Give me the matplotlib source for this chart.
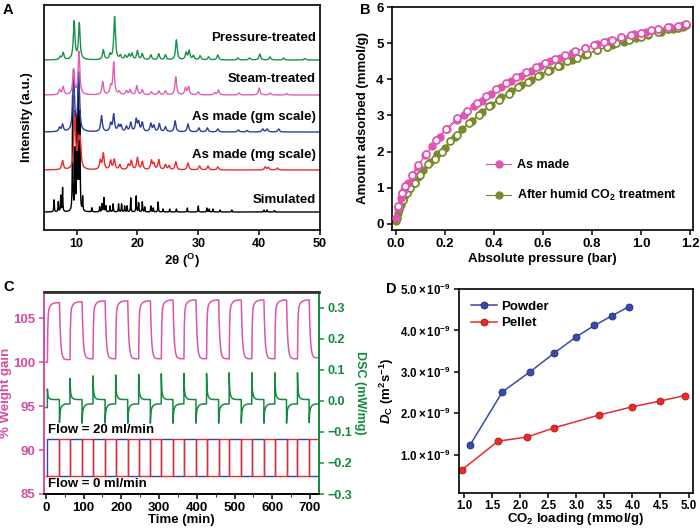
import numpy as np
import matplotlib
matplotlib.use("Agg")
import matplotlib.pyplot as plt
from matplotlib.ticker import MultipleLocator, FixedLocator, FuncFormatter

plt.rcParams.update({
    "font.family": ["Liberation Sans", "DejaVu Sans"],
    "font.weight": "bold",
    "axes.labelweight": "bold",
    "font.size": 9,
    "mathtext.fontset": "custom",
    "mathtext.rm": "Liberation Sans:bold",
    "mathtext.it": "Liberation Sans:italic:bold",
    "mathtext.bf": "Liberation Sans:bold",
    "axes.linewidth": 1.2,
    "xtick.direction": "out",
    "ytick.direction": "out",
    "xtick.major.width": 1.1,
    "ytick.major.width": 1.1,
    "xtick.major.size": 3.5,
    "ytick.major.size": 3.5,
    "xtick.major.pad": 2.5,
    "ytick.major.pad": 2.5,
})

# ---------------- Panel A data: PXRD peak lists (2theta, height) ----------------
xrd_labels = ["Simulated", "As made (mg scale)", "As made (gm scale)", "Steam-treated", "Pressure-treated"]
xrd_colors = ["#000000", "#ee2b2b", "#2c3e9e", "#e060b4", "#17924a"]
xrd_offsets = [18, 60, 98, 135, 170]
sim_pos = [6.3, 7.0, 7.4, 7.7, 9.35, 9.75, 10.05, 10.3, 10.55, 11.0, 12.5, 13.8, 14.2, 14.5, 14.8, 15.5, 16.0,
           16.9, 17.4, 17.9, 18.3, 18.9, 19.8, 20.2, 20.8, 21.2, 22.2, 22.6, 23.4, 24.2, 25.3, 26.4, 28.2,
           30.0, 31.4, 31.8, 32.4, 33.6, 35.5, 40.8, 41.3, 42.5]
sim_h = [12, 10, 16, 24, 115, 60, 90, 127, 95, 14, 4, 5, 8, 14, 6, 6, 8,
         8, 8, 6, 6, 14, 16, 9, 10, 5, 6, 4, 10, 3, 3, 3, 4,
         6, 4, 3, 3, 2, 2, 2, 2, 1.5]
mg_pos = [7.7, 9.7, 10.3, 10.6, 13.9, 14.4, 15.6, 16.2, 17.1, 18.5, 19.0, 20.0, 20.8, 22.3, 22.7, 23.5,
          24.6, 25.2, 26.3, 28.3, 30.2, 31.6, 33.2, 41.0, 41.5, 43.0]
mg_h = [9, 57, 25, 27, 9, 16, 9, 10, 5, 5, 9, 12, 8, 9, 6, 10,
        5, 4, 8, 7, 4, 4, 3, 3, 2.5, 2]
gm_pos = [7.2, 7.7, 9.5, 10.35, 14.1, 15.6, 16.1, 16.9, 17.3, 18.2, 18.9, 19.8, 20.2, 20.8, 22.2, 22.7,
          23.6, 24.6, 26.2, 28.3, 30.1, 31.5, 33.2, 36.6, 38.0, 40.6, 41.3, 43.2]
gm_h = [4, 7, 60, 58, 16, 8, 17, 6, 6, 5, 9, 12, 9, 9, 8, 6,
        8, 5, 11, 8, 4, 4, 3, 2, 1.5, 3, 3, 3]
steam_pos = [7.2, 7.8, 9.5, 10.4, 14.3, 15.6, 16.1, 17.0, 18.2, 18.8, 19.9, 20.8, 22.3, 23.5, 24.6, 26.3,
             27.9, 28.4, 30.0, 32.7, 33.3, 36.7, 40.0, 41.8, 44.5]
steam_h = [5, 8, 25, 43, 13, 8, 32, 3, 4, 5, 9, 5, 3, 4, 4, 18,
           7, 8, 3, 2, 5, 2, 7, 2, 1.5]
press_pos = [7.3, 7.8, 9.6, 10.45, 14.4, 15.5, 16.25, 17.2, 18.0, 18.6, 19.1, 20.0, 20.8, 22.2, 23.5, 24.6,
             26.4, 28.0, 28.5, 29.2, 30.3, 31.7, 33.2, 36.5, 38.4, 40.1, 41.8, 44.0, 47.5]
press_h = [3, 7, 38, 36, 10, 5, 43, 4, 4, 5, 6, 9, 6, 5, 6, 5,
           20, 7, 9, 4, 4, 3, 5, 2, 2, 6, 3, 2, 1.5]
xrd_peaks = [(sim_pos, sim_h, 0.05), (mg_pos, mg_h, 0.16), (gm_pos, gm_h, 0.16),
             (steam_pos, steam_h, 0.16), (press_pos, press_h, 0.16)]

# ---------------- Panel B data: CO2 isotherms ----------------
am_ads_p = [0.003, 0.01, 0.02, 0.035, 0.05, 0.07, 0.09, 0.12, 0.15, 0.18, 0.21, 0.25, 0.28, 0.32, 0.35, 0.39,
            0.43, 0.47, 0.51, 0.55, 0.59, 0.63, 0.67, 0.72, 0.77, 0.82, 0.87, 0.92, 0.97, 1.02, 1.07, 1.12, 1.17]
am_ads_v = [0.15, 0.45, 0.72, 0.95, 1.12, 1.36, 1.58, 1.9, 2.15, 2.4, 2.62, 2.88, 3.0, 3.25, 3.4, 3.6,
            3.78, 3.95, 4.1, 4.24, 4.37, 4.5, 4.6, 4.74, 4.86, 4.97, 5.07, 5.16, 5.24, 5.32, 5.39, 5.45, 5.51]
am_des_p = [0.008, 0.025, 0.04, 0.065, 0.09, 0.125, 0.165, 0.205, 0.25, 0.29, 0.33, 0.37, 0.41, 0.45, 0.49,
            0.53, 0.57, 0.61, 0.65, 0.69, 0.73, 0.77, 0.81, 0.85, 0.88, 0.92, 0.96, 1.0, 1.04, 1.07, 1.11, 1.15, 1.185]
am_des_v = [0.5, 0.85, 1.05, 1.35, 1.62, 1.93, 2.33, 2.62, 2.92, 3.12, 3.35, 3.55, 3.72, 3.9, 4.05,
            4.2, 4.33, 4.45, 4.57, 4.67, 4.77, 4.86, 4.95, 5.03, 5.09, 5.16, 5.23, 5.29, 5.35, 5.39, 5.44, 5.48, 5.53]
hu_ads_p = [0.003, 0.01, 0.02, 0.035, 0.05, 0.07, 0.09, 0.11, 0.14, 0.17, 0.2, 0.24, 0.27, 0.31, 0.35, 0.39,
            0.43, 0.47, 0.51, 0.55, 0.59, 0.63, 0.67, 0.72, 0.77, 0.82, 0.86, 0.88, 0.93, 0.98, 1.03, 1.08, 1.13, 1.17]
hu_ads_v = [0.08, 0.3, 0.52, 0.75, 0.92, 1.12, 1.3, 1.48, 1.7, 1.92, 2.1, 2.4, 2.62, 2.85, 3.1, 3.3,
            3.5, 3.67, 3.85, 3.98, 4.12, 4.26, 4.38, 4.52, 4.66, 4.8, 4.9, 4.96, 5.04, 5.13, 5.22, 5.31, 5.4, 5.46]
hu_des_p = [0.005, 0.015, 0.03, 0.045, 0.06, 0.08, 0.1, 0.13, 0.16, 0.19, 0.22, 0.25, 0.3, 0.34, 0.38, 0.42,
            0.46, 0.5, 0.54, 0.58, 0.62, 0.66, 0.7, 0.74, 0.78, 0.82, 0.86, 0.9, 0.95, 1.0, 1.03, 1.07, 1.11, 1.15, 1.185]
hu_des_v = [0.15, 0.42, 0.65, 0.85, 0.98, 1.12, 1.35, 1.65, 1.8, 2.0, 2.28, 2.45, 2.8, 3.0, 3.25, 3.42,
            3.6, 3.78, 3.92, 4.1, 4.22, 4.37, 4.5, 4.6, 4.7, 4.8, 4.88, 5.0, 5.09, 5.18, 5.24, 5.3, 5.38, 5.43, 5.5]

# ---------------- Panel C data: cycling (switch times and levels) ----------------
t_on = [4, 64, 125, 185, 246, 306, 366, 426, 486, 546, 607, 667]
t_off = [36, 96, 157, 217, 277, 337, 398, 458, 518, 578, 638, 698]
t_end = 724
w_start = 100.0
w_high = [106.8, 106.9, 107.0, 107.0, 107.0, 107.1, 107.1, 107.1, 107.1, 107.1, 107.1, 107.1]
w_low = [100.3, 100.4, 100.4, 100.4, 100.4, 100.4, 100.4, 100.4, 100.4, 100.4, 100.4, 100.5]
dsc_start = -0.022
dsc_up_peak = [0.038, 0.072, 0.08, 0.083, 0.085, 0.087, 0.088, 0.088, 0.09, 0.09, 0.09, 0.09]
dsc_down_peak = [-0.07, -0.072, -0.072, -0.072, -0.072, -0.072, -0.072, -0.072, -0.072, -0.072, -0.072, -0.07]
dsc_on_level = 0.004
dsc_off_level = -0.01
flow_high = 91.3
flow_low = 87.1

# ---------------- Panel D data: diffusivities ----------------
powder_x = [1.1, 1.68, 2.17, 2.6, 3.0, 3.32, 3.63, 3.93]
powder_y = [1.23, 2.52, 3.0, 3.45, 3.85, 4.12, 4.35, 4.57]
pellet_x = [0.95, 1.6, 2.12, 2.6, 3.4, 4.0, 4.5, 4.93]
pellet_y = [0.63, 1.33, 1.43, 1.65, 1.96, 2.16, 2.3, 2.43]

fig = plt.figure(figsize=(7.0, 5.29), dpi=100)

# ===== Panel A =====
axA = fig.add_axes([44 / 700, 1 - 230 / 529, 276 / 700, 225 / 529])
xx = np.linspace(4.6, 50, 6000)
for (pos, h, w), off, col in zip(xrd_peaks, xrd_offsets, xrd_colors):
    yy = np.full_like(xx, float(off))
    for p, hh in zip(pos, h):
        yy += hh / (1 + ((xx - p) / w) ** 2)
    axA.plot(xx, yy, color=col, lw=1.0)
axA.set_xlim(4.65, 50)
axA.set_ylim(0, 225)
axA.set_yticks([])
axA.xaxis.set_major_locator(FixedLocator([10, 20, 30, 40, 50]))
axA.set_xlabel(r"2θ ($^{\mathrm{O}}$)", fontsize=9.5, labelpad=1)
axA.set_ylabel("Intensity (a.u.)", fontsize=9.5, labelpad=8)
label_y = [30, 75, 113, 151, 192]
for lab, ly in zip(xrd_labels, label_y):
    axA.text(49.3, ly, lab, ha="right", va="center", fontsize=9.5, fontweight="bold")
axA.tick_params(labelsize=9)

# ===== Panel B =====
axB = fig.add_axes([392 / 700, 1 - 230 / 529, 301 / 700, 223 / 529])
pink = "#e055b2"
olive = "#7a8a2a"
axB.plot(am_ads_p, am_ads_v, "-o", color=pink, lw=0.8, ms=5, mfc=pink, mec=pink, label="As made", zorder=3)
axB.plot(am_des_p, am_des_v, "-o", color=pink, lw=0.8, ms=5, mfc="white", mec=pink, mew=1.3, zorder=3)
axB.plot(hu_ads_p, hu_ads_v, "-o", color=olive, lw=0.8, ms=5, mfc=olive, mec=olive,
         label=r"After humid CO$_{\mathrm{2}}$ treatment", zorder=2)
axB.plot(hu_des_p, hu_des_v, "-o", color=olive, lw=0.8, ms=5, mfc="white", mec=olive, mew=1.3, zorder=2)
axB.set_xlim(-0.015, 1.212)
axB.set_ylim(-0.17, 6.0)
axB.xaxis.set_major_locator(MultipleLocator(0.2))
axB.xaxis.set_major_formatter(FuncFormatter(lambda v, p: f"{v:.1f}"))
axB.yaxis.set_major_locator(MultipleLocator(1))
axB.set_xlabel("Absolute pressure (bar)", fontsize=9.5, labelpad=2)
axB.set_ylabel("Amount adsorbed (mmol/g)", fontsize=9.5, labelpad=5)
axB.tick_params(labelsize=9.5)
axB.legend(loc="lower right", bbox_to_anchor=(0.985, 0.07), frameon=False, fontsize=9,
           handlelength=2.0, labelspacing=1.35, handletextpad=0.5)

# ===== Panel C =====
axC = fig.add_axes([44 / 700, 1 - 494 / 529, 275 / 700, 202 / 529])
axC2 = axC.twinx()
t = np.arange(0, t_end + 0.001, 0.2)
w = np.full_like(t, w_start)
level = w_start
for k in range(len(t_on)):
    on, off = t_on[k], t_off[k]
    nxt = t_on[k + 1] if k + 1 < len(t_on) else t_end + 1
    m = (t >= on) & (t < off)
    dt = t[m] - on
    w[m] = level + (w_high[k] - level) * (1 - 0.8 * np.exp(-dt / 1.0) - 0.2 * np.exp(-dt / 6.0))
    d_off = off - on
    v_off = level + (w_high[k] - level) * (1 - 0.8 * np.exp(-d_off / 1.0) - 0.2 * np.exp(-d_off / 6.0))
    m2 = (t >= off) & (t < nxt)
    dt2 = t[m2] - off
    w[m2] = w_low[k] + (v_off - w_low[k]) * np.exp(-dt2 / 3.0)
    level = w_low[k] + (v_off - w_low[k]) * np.exp(-(nxt - off) / 3.0)

d = np.full_like(t, dsc_start)
for k in range(len(t_on)):
    on, off = t_on[k], t_off[k]
    nxt = t_on[k + 1] if k + 1 < len(t_on) else t_end + 1
    m = (t >= on) & (t < off)
    dt = t[m] - on
    d[m] = dsc_on_level + (dsc_up_peak[k] - dsc_on_level) * (0.55 * np.exp(-dt / 0.7) + 0.45 * np.exp(-dt / 3.5))
    m2 = (t >= off) & (t < nxt)
    dt2 = t[m2] - off
    d[m2] = dsc_off_level + (dsc_down_peak[k] - dsc_off_level) * (0.5 * np.exp(-dt2 / 0.9) + 0.5 * np.exp(-dt2 / 4.5))

blue_t = [0]
blue_v = [flow_low]
for a, b in zip(t_on, t_off):
    blue_t += [a, b]
    blue_v += [flow_high, flow_low]
blue_t.append(t_end)
blue_v.append(flow_low)
red_t = [0]
red_v = [flow_low]
for k, b in enumerate(t_off):
    red_t.append(b)
    red_v.append(flow_high)
    if k + 1 < len(t_on):
        red_t.append(t_on[k + 1])
        red_v.append(flow_low)
red_t.append(t_end)
red_v.append(flow_high)

cpink = "#d94aa0"
cgreen = "#138a3e"
axC.plot(t, w, color="#dc55a8", lw=1.1)
axC.plot(blue_t, blue_v, drawstyle="steps-post", color="#3344aa", lw=1.0)
axC.plot(red_t, red_v, drawstyle="steps-post", color="#ee2b2b", lw=1.0)
axC2.plot(t, d, color=cgreen, lw=1.1)
axC.set_xlim(-5, 724)
axC.set_ylim(85, 108)
axC2.set_ylim(-0.3, 0.35)
axC.xaxis.set_major_locator(MultipleLocator(100))
axC.xaxis.set_minor_locator(MultipleLocator(50))
axC.yaxis.set_major_locator(MultipleLocator(5))
axC2.yaxis.set_major_locator(MultipleLocator(0.1))
axC2.yaxis.set_major_formatter(FuncFormatter(lambda v, p: ("\u2212" if v < -1e-9 else "") + f"{abs(v):.1f}"))
axC.set_xlabel("Time (min)", fontsize=9.5, labelpad=0)
axC.set_ylabel("% Weight gain", color=cpink, fontsize=9.5, labelpad=1)
axC2.set_ylabel("DSC (mW/mg)", color=cgreen, fontsize=9, rotation=270, labelpad=10)
axC.tick_params(axis="y", colors=cpink, labelsize=9.5)
axC.tick_params(axis="x", labelsize=9.5)
axC2.tick_params(axis="y", colors=cgreen, labelsize=9)
axC2.spines["left"].set_color(cpink)
axC2.spines["right"].set_color(cgreen)
axC2.spines["top"].set_color("#333333")
axC2.spines["top"].set_linewidth(2.0)
axC.spines["left"].set_color(cpink)
axC.spines["right"].set_color(cgreen)
axC.text(5, 92.3, "Flow = 20 ml/min", fontsize=9.5, va="center", ha="left")
axC.text(5, 86.1, "Flow = 0 ml/min", fontsize=9.5, va="center", ha="left")

# ===== Panel D =====
axD = fig.add_axes([459 / 700, 1 - 493 / 529, 234 / 700, 204 / 529])
axD.plot(powder_x, powder_y, "-o", color="#3a4aa6", lw=1.1, ms=5, mfc="#3a4aa6", mec="#1f2c78", mew=0.6, label="Powder")
axD.plot(pellet_x, pellet_y, "-o", color="#ec2a2a", lw=1.1, ms=5, mfc="#ec2a2a", mec="#a81818", mew=0.6, label="Pellet")
axD.set_xlim(0.905, 5.08)
axD.set_ylim(0.08, 5.0)
axD.xaxis.set_major_locator(MultipleLocator(0.5))
axD.xaxis.set_major_formatter(FuncFormatter(lambda v, p: f"{v:.1f}"))
axD.yaxis.set_major_locator(FixedLocator([1, 2, 3, 4, 5]))
axD.yaxis.set_major_formatter(FuncFormatter(lambda v, p: r"$%.1f\times10^{-9}$" % v))
axD.set_xlabel(r"CO$_{\mathrm{2}}$ loading (mmol/g)", fontsize=9.5, labelpad=-1)
axD.set_ylabel(r"$\mathit{D}_{\mathrm{C}}$ (m$^{\mathrm{2}}$s$^{-1}$)", fontsize=9.5, labelpad=3)
axD.tick_params(labelsize=8.3)
axD.tick_params(axis="x", pad=1.5)
axD.legend(loc="upper left", bbox_to_anchor=(0.0, 1.0), frameon=False, fontsize=9.5,
           handlelength=2.0, labelspacing=0.3, handletextpad=0.3)

# Panel letters
for letter, x, y in [("A", 3, 10), ("B", 360, 10), ("C", 3, 287), ("D", 386, 289)]:
    fig.text(x / 700, 1 - y / 529, letter, fontsize=10.5, fontweight="bold", va="center", ha="left")

fig.savefig("out.png", dpi=100)
